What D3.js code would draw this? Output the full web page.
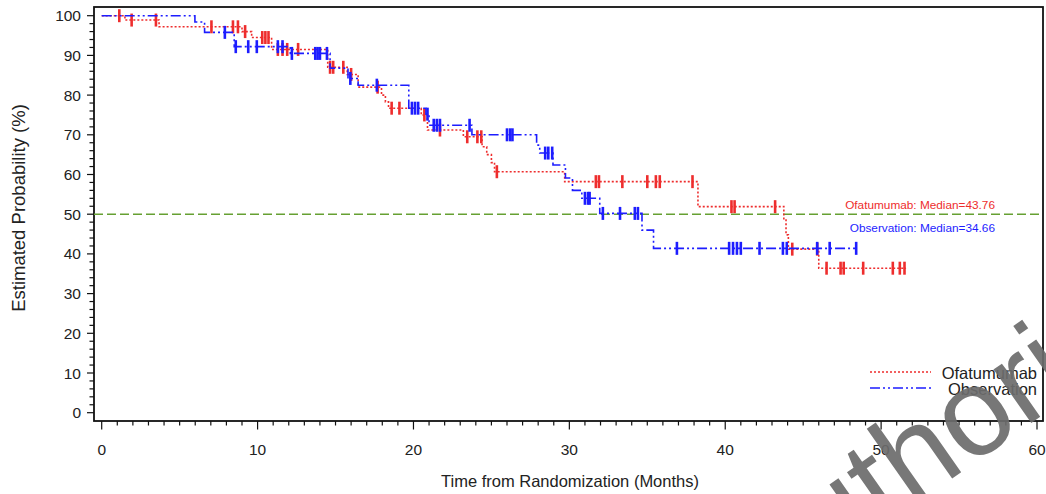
<!DOCTYPE html>
<html>
<head>
<meta charset="utf-8">
<script src="https://cdn.jsdelivr.net/npm/d3@7"></script>
<style>
  html, body { margin: 0; padding: 0; background: #ffffff; }
  svg { display: block; font-family: "Liberation Sans", Arial, sans-serif; }
</style>
</head>
<body>
<svg id="chart" width="1046" height="494"></svg>
<script>
// ---- Data ----
const xTicks = [0, 10, 20, 30, 40, 50, 60];
const yTicks = [0, 10, 20, 30, 40, 50, 60, 70, 80, 90, 100];

// Ofatumumab: step times (months) and survival (%) after each step
const ofaTimes = [0, 1.49, 3.68, 9.0, 9.62, 10.9, 14.5, 15.75, 16.45, 17.95, 18.2, 18.4, 20.5, 20.9, 23.2, 24.4, 24.7, 25.0, 25.2, 29.7, 38.25, 43.76, 43.9, 44.05, 46.0];
const ofaSurv  = [100, 98.9, 97.2, 96.0, 94.5, 91.5, 87.0, 85.2, 82.0, 80.0, 78.3, 76.7, 75.0, 71.2, 69.5, 67.0, 65.0, 63.0, 60.7, 58.2, 51.9, 48.5, 44.8, 41.2, 36.4];
const ofaEnd = 51.6;
const ofaCensor = [1.13, 1.92, 3.48, 7.04, 8.42, 8.74, 9.2, 10.3, 10.5, 10.7, 11.3, 11.6, 11.9, 12.6, 14.65, 14.85, 15.5, 16.0, 17.7, 18.6, 19.1, 20.7, 21.7, 23.45, 24.1, 24.35, 25.35, 31.7, 31.9, 33.4, 35.0, 35.55, 35.8, 37.9, 40.4, 40.6, 43.2, 44.3, 45.9, 46.5, 47.4, 47.6, 48.85, 50.75, 51.2, 51.5];

// Observation
const obsTimes = [0, 5.98, 6.6, 8.5, 12.1, 14.65, 15.8, 16.45, 19.7, 20.8, 21.0, 23.75, 27.9, 28.1, 28.95, 29.75, 30.2, 30.8, 31.95, 34.66, 35.4];
const obsSurv  = [100, 98.4, 95.8, 92.2, 90.5, 86.8, 84.2, 82.5, 76.7, 75.2, 72.4, 70.0, 67.4, 65.4, 62.4, 59.1, 56.0, 54.0, 50.2, 46.0, 41.4];
const obsEnd = 48.4;
const obsCensor = [7.9, 8.6, 9.4, 9.95, 11.3, 11.6, 12.2, 13.7, 13.85, 14.0, 14.45, 15.95, 17.65, 19.9, 20.1, 20.3, 20.9, 21.3, 21.5, 21.7, 23.6, 26.0, 26.2, 26.35, 28.45, 28.65, 28.9, 31.0, 31.2, 31.3, 32.15, 33.25, 34.2, 34.4, 36.9, 40.25, 40.5, 40.75, 41.0, 42.2, 43.7, 43.95, 45.9, 46.7, 48.4];

const seriesNames = ["Ofatumumab", "Observation"];
const medians = [43.76, 34.66];
const refLine = 50;
const watermarkText = "authorised";

// ---- Layout ----
const svg = d3.select("#chart");
const frame = { left: 94, right: 1043, top: 7, bottom: 421 };
const x = d3.scaleLinear().domain([0, 60]).range([101.7, 1037]);
const y = d3.scaleLinear().domain([0, 100]).range([412.7, 15.7]);

const RED = "#ee2d2d";
const BLUE = "#1d1dff";
const GREEN = "#66a032";
const TXT = "#222222";
const FONT = 15.5;

// plot frame
svg.append("rect")
  .attr("x", frame.left).attr("y", frame.top)
  .attr("width", frame.right - frame.left).attr("height", frame.bottom - frame.top)
  .attr("fill", "none").attr("stroke", "#111").attr("stroke-width", 1.8);

// y axis ticks
const yMinor = d3.range(0, 101, 2);
svg.append("g").selectAll("line").data(yMinor).join("line")
  .attr("x1", frame.left).attr("x2", d => d % 10 === 0 ? frame.left - 7 : frame.left - 4.5)
  .attr("y1", d => y(d)).attr("y2", d => y(d))
  .attr("stroke", "#111").attr("stroke-width", 1.2);
svg.append("g").selectAll("text").data(yTicks).join("text")
  .attr("x", 81).attr("y", d => y(d)).attr("dy", "0.36em")
  .attr("text-anchor", "end").attr("font-size", FONT).attr("fill", TXT)
  .text(d => d);

// x axis ticks
const xMinor = d3.range(0, 61, 1);
svg.append("g").selectAll("line").data(xMinor).join("line")
  .attr("y1", frame.bottom).attr("y2", d => d % 10 === 0 ? frame.bottom + 8.5 : frame.bottom + 4.5)
  .attr("x1", d => x(d)).attr("x2", d => x(d))
  .attr("stroke", "#111").attr("stroke-width", 1.2);
svg.append("g").selectAll("text").data(xTicks).join("text")
  .attr("x", d => x(d)).attr("y", 449).attr("dy", "0.36em")
  .attr("text-anchor", "middle").attr("font-size", FONT).attr("fill", TXT)
  .text(d => d);

// axis titles
svg.append("text")
  .attr("x", 570).attr("y", 481).attr("dy", "0.36em")
  .attr("text-anchor", "middle").attr("font-size", 16.5).attr("fill", TXT)
  .text("Time from Randomization (Months)");
svg.append("text")
  .attr("transform", "translate(18,208) rotate(-90)")
  .attr("dy", "0.36em")
  .attr("text-anchor", "middle").attr("font-size", 18.5).attr("fill", TXT)
  .text("Estimated Probability (%)");

// median reference line
svg.append("line")
  .attr("x1", frame.left).attr("x2", frame.right)
  .attr("y1", y(refLine)).attr("y2", y(refLine))
  .attr("stroke", GREEN).attr("stroke-width", 1.5).attr("stroke-dasharray", "9,4");

// step curves
function stepPoints(times, surv, end) {
  const pts = times.map((t, i) => [t, surv[i]]);
  pts.push([end, surv[surv.length - 1]]);
  return pts;
}
function survAt(times, surv, t) {
  let s = surv[0];
  for (let i = 0; i < times.length; i++) { if (times[i] <= t) s = surv[i]; }
  return s;
}
const line = d3.line().x(d => x(d[0])).y(d => y(d[1])).curve(d3.curveStepAfter);

const series = [
  { times: ofaTimes, surv: ofaSurv, end: ofaEnd, censor: ofaCensor, color: RED, dash: "2,2" },
  { times: obsTimes, surv: obsSurv, end: obsEnd, censor: obsCensor, color: BLUE, dash: "10,3,2,3,2,3" }
];

series.forEach(s => {
  svg.append("path")
    .datum(stepPoints(s.times, s.surv, s.end))
    .attr("d", line)
    .attr("fill", "none").attr("stroke", s.color)
    .attr("stroke-width", 1.6).attr("stroke-dasharray", s.dash);
  svg.append("g").selectAll("line").data(s.censor).join("line")
    .attr("x1", d => x(d)).attr("x2", d => x(d))
    .attr("y1", d => y(survAt(s.times, s.surv, d)) - 6.5)
    .attr("y2", d => y(survAt(s.times, s.surv, d)) + 6.5)
    .attr("stroke", s.color).attr("stroke-width", 2.6);
});

// median annotations
svg.append("text")
  .attr("x", 995).attr("y", 205).attr("dy", "0.36em")
  .attr("text-anchor", "end").attr("font-size", 11.8).attr("fill", RED)
  .text(seriesNames[0] + ": Median=" + medians[0].toFixed(2));
svg.append("text")
  .attr("x", 995).attr("y", 228).attr("dy", "0.36em")
  .attr("text-anchor", "end").attr("font-size", 11.8).attr("fill", BLUE)
  .text(seriesNames[1] + ": Median=" + medians[1].toFixed(2));

// legend
const legY = [372, 388];
series.forEach((s, i) => {
  svg.append("line")
    .attr("x1", 870).attr("x2", 931).attr("y1", legY[i]).attr("y2", legY[i])
    .attr("stroke", s.color).attr("stroke-width", 1.6).attr("stroke-dasharray", s.dash);
  svg.append("text")
    .attr("x", 1037).attr("y", legY[i] + 1).attr("dy", "0.36em")
    .attr("text-anchor", "end").attr("font-size", 16.5).attr("fill", TXT)
    .text(seriesNames[i]);
});

// document watermark (partly visible in the reference's lower-right corner)
svg.append("text")
  .attr("transform", "translate(770,606) rotate(-35)")
  .attr("font-size", 124).attr("fill", "#6c6c6c").attr("opacity", 0.92)
  .text(watermarkText);
</script>
</body>
</html>
